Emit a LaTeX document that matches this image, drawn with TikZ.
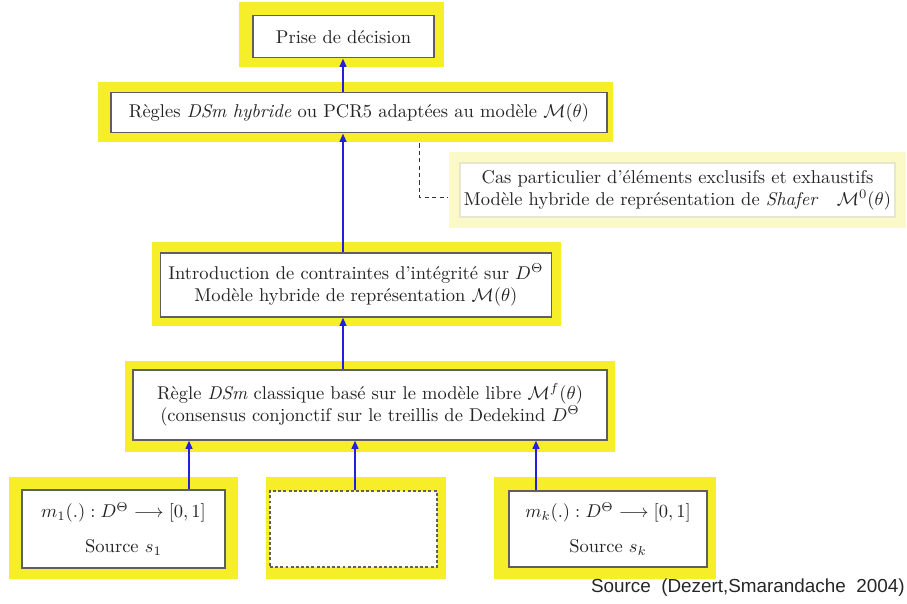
\documentclass[tikz,border=0pt]{standalone}
\usepackage{fontspec}
\usepackage{amsmath}
\newfontfamily\arialf{Liberation Sans}
\usetikzlibrary{arrows.meta,backgrounds}
\definecolor{yel}{RGB}{246,238,40}
\definecolor{paley}{RGB}{251,249,200}
\definecolor{paleb}{RGB}{232,230,205}
\definecolor{bord}{RGB}{95,95,95}
\definecolor{arrb}{RGB}{35,30,225}
\definecolor{txt}{RGB}{35,35,35}
\begin{document}
\begin{tikzpicture}[x=0.5406pt,y=-0.5406pt,
  box/.style={draw=bord, line width=0.55pt, fill=white, inner sep=0pt, align=center, text=txt},
  arr/.style={draw=arrb, line width=1pt, -{Triangle[length=4.5pt,width=3.6pt]}},
  dl/.style={draw=black!80, line width=0.5pt, dash pattern=on 2.2pt off 1.8pt}]
\useasboundingbox (0,0) rectangle (907,604);
% boxes
\node[box, minimum width=181*0.5406pt, minimum height=42*0.5406pt] (b1) at (343.5,37) {Prise de décision};
\node[box, minimum width=496*0.5406pt, minimum height=40*0.5406pt] (b2) at (359,113)
  {Règles \emph{DSm hybride} ou PCR5 adaptées au modèle $\mathcal{M}(\theta)$};
\node[box, anchor=west, inner xsep=4.3pt, minimum height=64*0.5406pt] (b3) at (160,285)
  {Introduction de contraintes d'intégrité sur $D^\Theta$\\ Modèle hybride de représentation $\mathcal{M}(\theta)$};
\node[box, minimum width=474*0.5406pt, minimum height=70*0.5406pt] (b4) at (370,405)
  {Règle \emph{DSm} classique basé sur le modèle libre $\mathcal{M}^f(\theta)$\\ (consensus conjonctif sur le treillis de Dedekind $D^\Theta$};
\node[box, draw=paleb, minimum width=435*0.5406pt, minimum height=54*0.5406pt] (b6) at (677.5,190)
  {Cas particulier d'éléments exclusifs et exhaustifs\\ Modèle hybride de représentation de \emph{Shafer}\quad $\mathcal{M}^0(\theta)$};
\node[box, minimum width=203*0.5406pt, minimum height=78*0.5406pt] (s1) at (123.5,529)
  {$m_1(.) : D^\Theta \longrightarrow [0,1]$\\[7pt] Source $s_1$};
\node[box, dash pattern=on 1.6pt off 1.2pt, minimum width=167*0.5406pt, minimum height=76*0.5406pt] (sm) at (353.5,529) {};
\node[box, minimum width=198*0.5406pt, minimum height=76*0.5406pt] (sk) at (608,529)
  {$m_k(.) : D^\Theta \longrightarrow [0,1]$\\[7pt] Source $s_k$};
\node[anchor=east, inner sep=0pt, text=black!85, font=\arialf\fontsize{10.2pt}{12pt}\selectfont] (src) at (905,588)
  {Source\ \ (Dezert,Smarandache\ \ 2004)};
% yellow frames
\begin{scope}[on background layer]
\fill[yel] ([shift={(-13,-13)}]b1.north west) rectangle ([shift={(9,9)}]b1.south east);
\fill[yel] ([shift={(-12,-10)}]b2.north west) rectangle ([shift={(5,9)}]b2.south east);
\fill[yel] ([shift={(-8,-10)}]b3.north west) rectangle ([shift={(9,8)}]b3.south east);
\fill[yel] ([shift={(-7,-8)}]b4.north west) rectangle ([shift={(7,11)}]b4.south east);
\fill[paley] ([shift={(-10,-10)}]b6.north west) rectangle ([shift={(10,10)}]b6.south east);
\fill[yel] ([shift={(-12,-12)}]s1.north west) rectangle ([shift={(12,10)}]s1.south east);
\fill[yel] ([shift={(-3,-13)}]sm.north west) rectangle ([shift={(8,11)}]sm.south east);
\fill[yel] ([shift={(-14,-13)}]sk.north west) rectangle ([shift={(8,11)}]sk.south east);
\end{scope}
% connectors
\coordinate (cx) at (343,0);
\coordinate (ca) at (189,0);
\coordinate (cb) at (355,0);
\coordinate (cc) at (536,0);
\coordinate (d0) at (419,0);
\coordinate (dend) at (447,197);
\draw[arr] (b2.north -| cx) -- (b1.south -| cx);
\draw[arr] (b3.north -| cx) -- (b2.south -| cx);
\draw[arr] (b4.north -| cx) -- (b3.south -| cx);
\draw[arr] (s1.north -| ca) -- (b4.south -| ca);
\draw[arr] (sm.north -| cb) -- (b4.south -| cb);
\draw[arr] (sk.north -| cc) -- (b4.south -| cc);
\draw[dl] (b2.south -| d0) ++(0,10) |- (dend);
\end{tikzpicture}
\end{document}
